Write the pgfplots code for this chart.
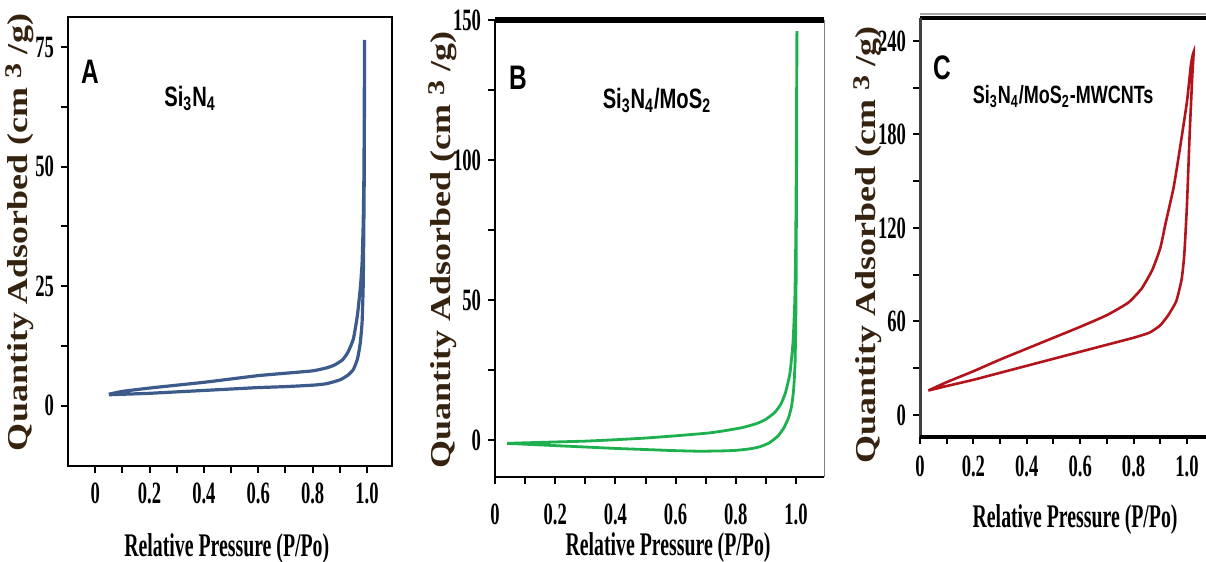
\documentclass[border=0pt]{standalone}
\usepackage{pgfplots}
\pgfplotsset{compat=1.18}
\usepackage{fontspec}
\setmainfont{Liberation Serif}
\newfontfamily\tickfont{Liberation Serif}[FakeStretch=0.6]
\newfontfamily\panelfont{Liberation Sans}[FakeStretch=0.72]
\definecolor{cA}{HTML}{3C5B8A}
\definecolor{cB}{HTML}{1DB04E}
\definecolor{cC}{HTML}{B3141C}
\definecolor{ylab}{HTML}{35230F}

\pgfplotstableread{
x y
0.05 2.3
0.1 2.4
0.2 2.6
0.3 2.9
0.4 3.2
0.5 3.5
0.6 3.8
0.7 4.0
0.8 4.3
0.85 4.6
0.9 5.4
0.93 6.4
0.95 7.6
0.965 9.8
0.975 13
0.982 17.5
0.986 25
0.988 35
0.99 50
0.991 76.5
0.989 50
0.986 38
0.982 30
0.976 25
0.965 19
0.95 14
0.93 11.2
0.91 9.6
0.88 8.5
0.85 7.9
0.8 7.3
0.7 6.8
0.6 6.3
0.5 5.6
0.4 4.9
0.3 4.3
0.2 3.7
0.1 3.0
0.05 2.4
}\dataA

\pgfplotstableread{
x y
0.04 -1.1
0.1 -1.4
0.2 -1.9
0.3 -2.4
0.4 -2.9
0.5 -3.3
0.6 -3.7
0.68 -3.9
0.75 -3.8
0.8 -3.6
0.85 -3.0
0.88 -2.3
0.91 -1.0
0.94 1.5
0.96 4.5
0.975 8
0.985 12
0.992 18
0.997 28
1.0 50
1.002 100
1.003 146
1.001 100
0.999 70
0.996 50
0.99 35
0.98 24
0.965 17
0.95 13
0.93 10
0.9 7.5
0.87 6
0.82 4.5
0.75 3.2
0.7 2.5
0.6 1.6
0.5 0.8
0.4 0.2
0.3 -0.3
0.2 -0.6
0.1 -0.9
0.04 -1.1
}\dataB

\pgfplotstableread{
x y
0.031 15.6
0.1 18.5
0.2 22.5
0.3 27
0.4 31.5
0.5 36
0.6 40.5
0.7 45
0.8 49.5
0.86 52.8
0.9 57.5
0.93 64
0.96 73
0.98 87
0.99 103
1.0 135
1.01 180
1.02 218
1.025 233
1.015 225
1.0 201
0.97 167
0.95 146
0.92 123
0.9 107
0.87 93
0.83 81
0.78 72
0.7 64
0.6 56.5
0.5 49.5
0.4 42.5
0.3 35.5
0.2 28
0.1 21
0.031 15.6
}\dataC

\pgfplotsset{
  common/.style={
    scale only axis, clip=false,
    axis line style={draw=none},
    tick align=outside, tick pos=left,
    major tick length=3.5pt, minor tick length=3.5pt,
    every tick/.style={black, line width=1pt},
    ticklabel style={font=\tickfont\bfseries\fontsize{15.5}{18}\selectfont},
    xtick={0,0.2,0.4,0.6,0.8,1.0},
    xticklabels={0,0.2,0.4,0.6,0.8,1.0},
    minor xtick={0.1,0.3,0.5,0.7,0.9},
    xlabel={Relative Pressure (P/Po)},
    xlabel style={anchor=center, font=\tickfont\bfseries\fontsize{16.5}{18}\selectfont},
    ylabel={\scalebox{1}[0.8]{Quantity Adsorbed (cm \raisebox{0.45ex}{\fontsize{15}{15}\selectfont 3} /g)}},
    ylabel style={anchor=center, text=ylab, font=\bfseries\fontsize{18}{20}\selectfont},
  },
}
\tikzset{
  panel/.style={font=\panelfont\bfseries\fontsize{17}{20}\selectfont, anchor=center},
  comp/.style={font=\panelfont\bfseries\fontsize{14}{16}\selectfont, anchor=center},
}

\begin{document}
\begin{tikzpicture}
\path[use as bounding box] (0,0) rectangle (603pt,281pt);

% Panel A
\begin{axis}[common, name=A, at={(34pt,48pt)}, anchor=south west,
  width=162pt, height=224.5pt,
  xmin=-0.1, xmax=1.092, ymin=-12.6, ymax=81.3,
  ytick={0,25,50,75}, yticklabels={0,25,50,75}, minor ytick={12.5,37.5,62.5},
  xticklabel style={yshift=-1.5pt},
  xlabel style={at={(axis description cs:0.49,-0.183)}},
  ylabel style={at={(axis description cs:-0.148,0.52)}}]
\addplot[cA, line width=1.6pt, smooth, tension=0.3] table {\dataA};
\node[panel] at (axis cs:-0.019,69.8) {A};
\node[comp] at (axis cs:0.349,64.3) {Si\textsubscript{3}N\textsubscript{4}};
\draw[line width=1.2pt] (rel axis cs:0,0) rectangle (rel axis cs:1,1);
\end{axis}

% Panel B
\begin{axis}[common, name=B, at={(247.5pt,42.5pt)}, anchor=south west,
  width=164.5pt, height=228.5pt,
  xmin=0, xmax=1.093, ymin=-13.1, ymax=150,
  ytick={0,50,100,150}, yticklabels={0,50,100,150}, minor ytick={25,75,125},
  xticklabel style={yshift=-6.5pt},
  xlabel style={at={(axis description cs:0.526,-0.155)}},
  ylabel style={at={(axis description cs:-0.158,0.497)}}]
\addplot[cB, line width=1.4pt, smooth, tension=0.3] table {\dataB};
\node[panel] at (axis cs:0.076,129.3) {B};
\node[comp] at (axis cs:0.538,121.4) {Si\textsubscript{3}N\textsubscript{4}/MoS\textsubscript{2}};
\draw[line width=1.1pt] (rel axis cs:0,1) -- (rel axis cs:0,0) -- (rel axis cs:1,0);
\draw[line width=0.5pt, gray] (rel axis cs:1,0) -- (rel axis cs:1,1);
\draw[line width=2.6pt] (rel axis cs:0,1) -- (rel axis cs:1,1);
\end{axis}

% Panel C
\begin{axis}[common, name=C, at={(460pt,62.5pt)}, anchor=south west,
  width=145.5pt, height=209.5pt,
  xmin=0, xmax=1.09, ymin=-14.2, ymax=254.7,
  ytick={0,60,120,180,240}, yticklabels={0,60,120,180,240}, minor ytick={30,90,150,210},
  xticklabel style={yshift=-2.5pt},
  xlabel style={at={(axis description cs:0.533,-0.198)}},
  ylabel style={at={(axis description cs:-0.179,0.458)}}]
\addplot[cC, line width=1.3pt, smooth, tension=0.3] table {\dataC};
\node[panel] at (axis cs:0.082,222.6) {C};
\node[comp, font=\panelfont\bfseries\fontsize{12.5}{14}\selectfont] at (axis cs:0.536,204) {Si\textsubscript{3}N\textsubscript{4}/MoS\textsubscript{2}-MWCNTs};
\draw[line width=1.4pt, black!35] ([yshift=2pt]rel axis cs:0,1) -- ([yshift=2pt]rel axis cs:1.2,1);
\draw[line width=1.8pt, black] (rel axis cs:0,1) -- (rel axis cs:1.2,1);
\draw[line width=1.5pt, black!75] (rel axis cs:0,1) -- (rel axis cs:0,0);
\draw[line width=1.6pt, black] (rel axis cs:0,0) -- (rel axis cs:1.2,0);
\end{axis}
\end{tikzpicture}
\end{document}
